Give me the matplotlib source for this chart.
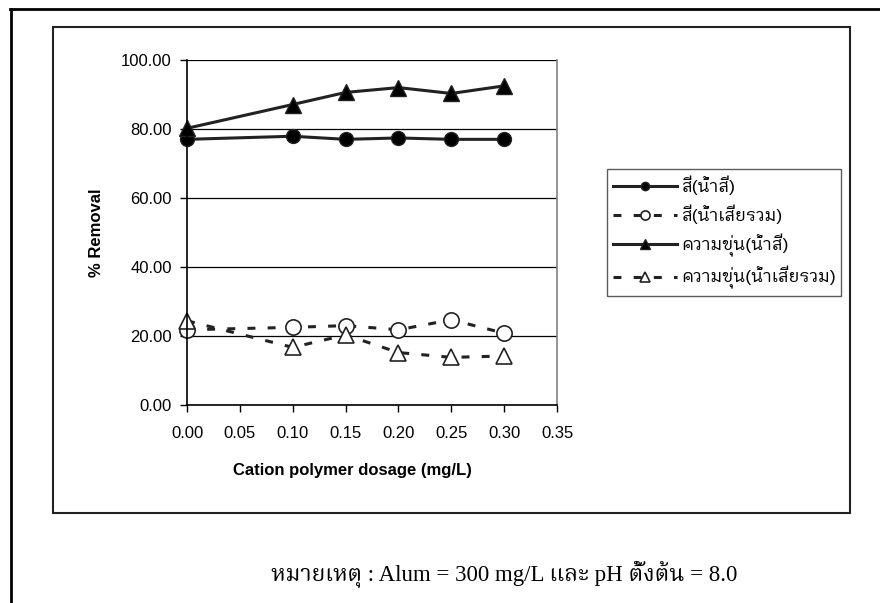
import matplotlib
matplotlib.use("Agg")
import matplotlib.pyplot as plt
from matplotlib import font_manager
from matplotlib.lines import Line2D
from fontTools.ttLib import TTFont

# Dane
dosage = [0.00, 0.10, 0.15, 0.20, 0.25, 0.30]
color_dye = [77.0, 77.9, 77.0, 77.4, 77.0, 77.0]
color_mixed = [21.8, 22.5, 23.0, 21.8, 24.7, 20.8]
turb_dye = [80.2, 87.1, 90.6, 92.0, 90.3, 92.5]
turb_mixed = [24.4, 16.7, 20.3, 15.2, 13.8, 14.2]

labels = ["สี(น้ำสี)", "สี(น้ำเสียรวม)", "ความขุ่น(น้ำสี)", "ความขุ่น(น้ำเสียรวม)"]
x_ticks = [0.00, 0.05, 0.10, 0.15, 0.20, 0.25, 0.30, 0.35]
y_ticks = [0, 20, 40, 60, 80, 100]
note = "หมายเหตุ : Alum = 300 mg/L และ pH ตั้งต้น = 8.0"


def find_thai_fonts():
    """Zwraca liste rodzin czcionek, ktore maja znaki tajskie"""
    names = []
    for f in font_manager.fontManager.ttflist:
        try:
            tt = TTFont(f.fname, fontNumber=0, lazy=True)
            cmap = tt.getBestCmap()
            if cmap and 0x0E2A in cmap and 0x0E49 in cmap and f.name not in names:
                names.append(f.name)
        except Exception:
            pass
    return names


def pick(names, prefs):
    for p in prefs:
        for n in names:
            if p in n:
                return [n]
    return names[:1]


thai = find_thai_fonts()
thai_sans = pick(thai, ["Sans Thai Looped", "Looped", "Sans Thai"])
thai_serif = pick(thai, ["Serif Thai", "Looped", "Thai"])
sans = ["Liberation Sans"] + thai_sans + ["DejaVu Sans"]
serif = ["Liberation Serif"] + thai_serif + ["DejaVu Sans"]
plt.rcParams["font.family"] = sans

fig = plt.figure(figsize=(8.8, 6.03), dpi=100)

# Ramki wokol wykresu
fig.add_artist(Line2D([0.0114, 1.0], [0.985, 0.985], color="black", lw=2))
fig.add_artist(Line2D([0.0125, 0.0125], [0.985, 0.0], color="black", lw=2))
fig.add_artist(plt.Rectangle((0.0602, 0.1493), 0.9058, 0.8059, fill=False,
                             edgecolor="#222222", lw=1.5))

ax = fig.add_axes([0.2125, 0.3284, 0.4205, 0.5721])

line_color = "#222222"
dash = (2.6, 4)
ax.plot(dosage, color_dye, color=line_color, lw=2.2, marker="o", markersize=10,
        markerfacecolor="black", markeredgecolor="#222222", label=labels[0],
        clip_on=False)
ax.plot(dosage, color_mixed, color=line_color, lw=2.2, dashes=dash, marker="o",
        markersize=11, markerfacecolor="white", markeredgecolor="#222222",
        markeredgewidth=1.2, label=labels[1], clip_on=False)
ax.plot(dosage, turb_dye, color=line_color, lw=2.2, marker="^", markersize=11,
        markerfacecolor="black", markeredgecolor="#222222", label=labels[2],
        clip_on=False)
ax.plot(dosage, turb_mixed, color=line_color, lw=2.2, dashes=dash, marker="^",
        markersize=12, markerfacecolor="white", markeredgecolor="#222222",
        markeredgewidth=1.2, label=labels[3], clip_on=False)

ax.set_xlim(0, 0.35)
ax.set_ylim(0, 100)
ax.set_xticks(x_ticks)
ax.set_yticks(y_ticks)
ax.set_xticklabels([f"{v:.2f}" for v in x_ticks], fontsize=12)
ax.set_yticklabels([f"{v:.2f}" for v in y_ticks], fontsize=12)
ax.tick_params(direction="out", length=5, width=1, colors="black", pad=6)
ax.tick_params(axis="x", pad=10)
ax.grid(axis="y", color="black", lw=0.9)
ax.set_axisbelow(True)

ax.spines["top"].set_visible(False)
ax.spines["right"].set_color("#808080")
ax.spines["right"].set_linewidth(1.2)
ax.spines["left"].set_linewidth(1.2)
ax.spines["bottom"].set_linewidth(1.2)

ax.set_ylabel("% Removal", fontsize=12, fontweight="bold", labelpad=12)
fig.text(0.40, 0.219, "Cation polymer dosage (mg/L)", fontsize=12,
         fontweight="bold", ha="center", va="center")

leg = ax.legend(loc="center left", bbox_to_anchor=(1.135, 0.50), fontsize=12.5,
                frameon=True, fancybox=False, edgecolor="#333333",
                handlelength=3.7, markerscale=0.6, borderpad=0.35,
                labelspacing=0.55, handletextpad=0.2, borderaxespad=0)
leg.get_frame().set_linewidth(1.0)

fig.text(0.573, 0.045, note, fontsize=16.5, family=serif, ha="center", va="center")

plt.savefig("out.png", dpi=100)
